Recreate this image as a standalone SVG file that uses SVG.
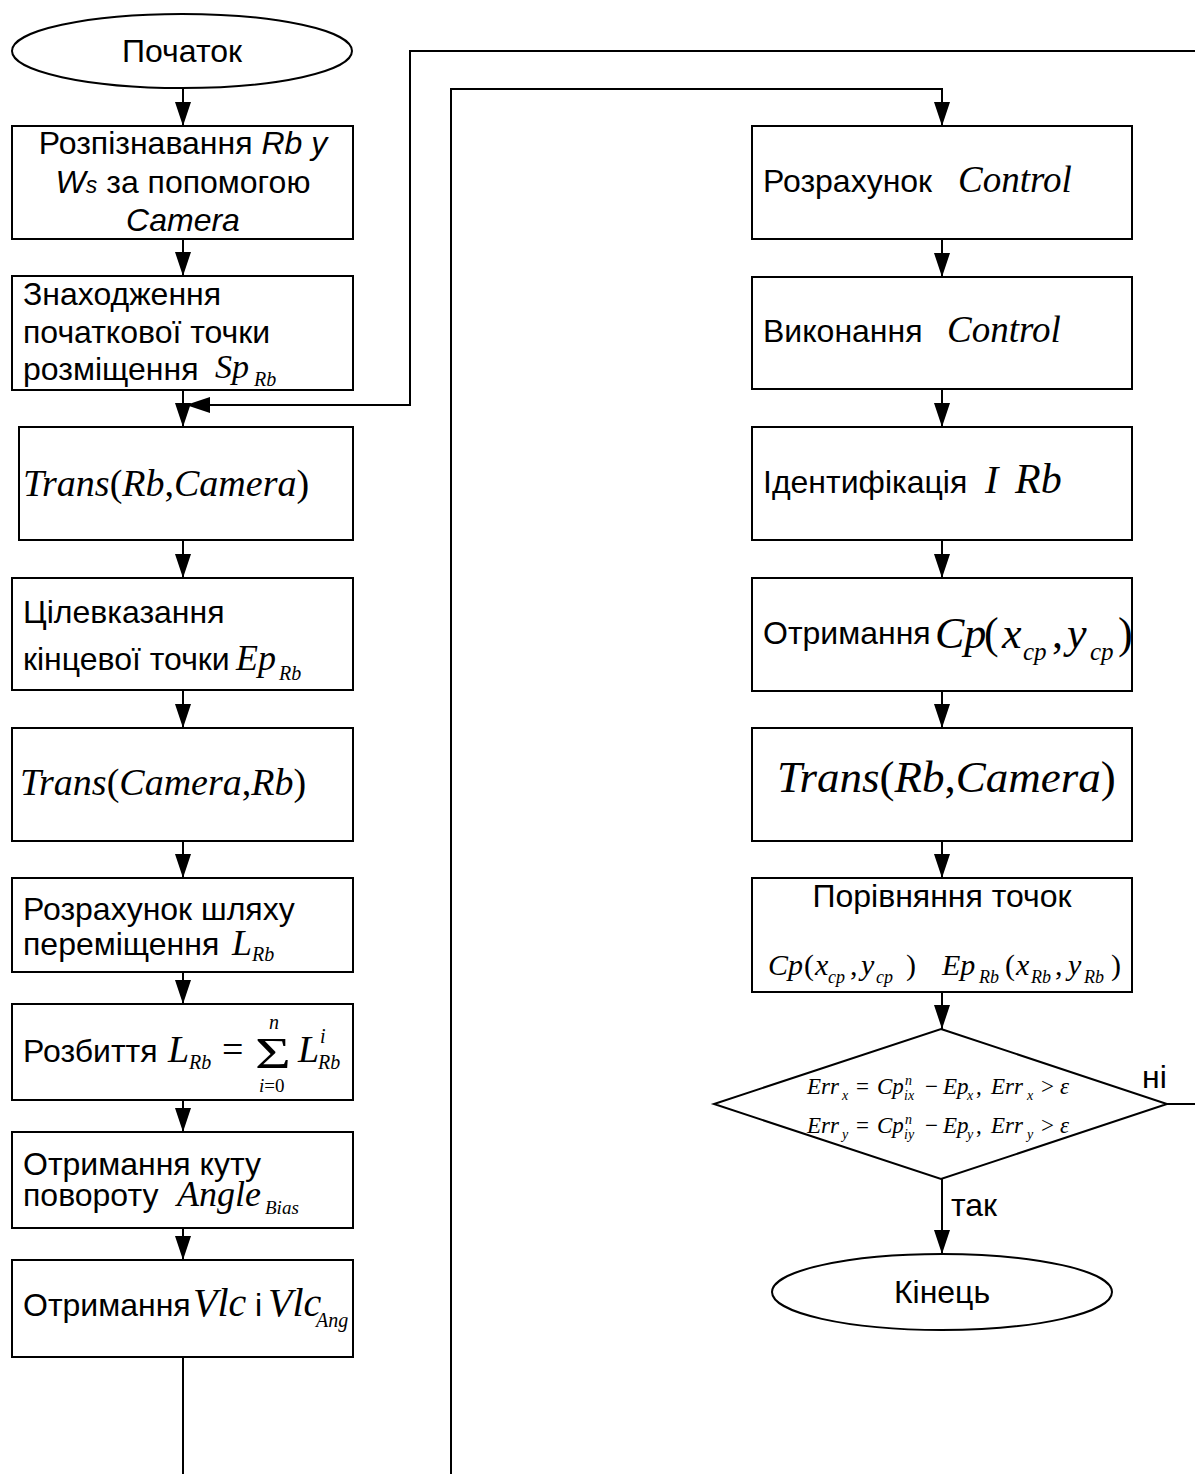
<svg xmlns="http://www.w3.org/2000/svg" width="1195" height="1474" viewBox="0 0 1195 1474">
  <style>
    .shape { fill: #fff; stroke: #000; stroke-width: 2; }
    .wire { fill: none; stroke: #000; stroke-width: 2; }
    .s { font-family: "Liberation Sans", Arial, sans-serif; font-size: 32px; fill: #000; }
    .si { font-family: "Liberation Sans", Arial, sans-serif; font-style: italic; fill: #000; }
    .m { font-family: "Liberation Serif", "Times New Roman", serif; font-style: italic; fill: #000; }
    .u { font-style: normal; }
    .d { font-size: 23px; }
    .ds { font-size: 14px; }
  </style>
  <defs>
    <marker id="arrow" markerUnits="userSpaceOnUse" markerWidth="24" markerHeight="16" refX="24" refY="8" orient="auto">
      <path d="M0,0 L24,8 L0,16 Z" fill="#000"/>
    </marker>
  </defs>

  <!-- connectors -->
  <g id="connectors">
    <line class="wire" x1="183" y1="88" x2="183" y2="126" marker-end="url(#arrow)"/>
    <line class="wire" x1="183" y1="239" x2="183" y2="276" marker-end="url(#arrow)"/>
    <line class="wire" x1="183" y1="390" x2="183" y2="427" marker-end="url(#arrow)"/>
    <path class="wire" d="M1195,51 H410 V405 H186" marker-end="url(#arrow)"/>
    <line class="wire" x1="183" y1="540" x2="183" y2="578" marker-end="url(#arrow)"/>
    <line class="wire" x1="183" y1="690" x2="183" y2="728" marker-end="url(#arrow)"/>
    <line class="wire" x1="183" y1="841" x2="183" y2="878" marker-end="url(#arrow)"/>
    <line class="wire" x1="183" y1="972" x2="183" y2="1004" marker-end="url(#arrow)"/>
    <line class="wire" x1="183" y1="1100" x2="183" y2="1132" marker-end="url(#arrow)"/>
    <line class="wire" x1="183" y1="1228" x2="183" y2="1260" marker-end="url(#arrow)"/>
    <line class="wire" x1="183" y1="1357" x2="183" y2="1474"/>
    <path class="wire" d="M451,1474 V89 H942 V126" marker-end="url(#arrow)"/>
    <line class="wire" x1="942" y1="239" x2="942" y2="277" marker-end="url(#arrow)"/>
    <line class="wire" x1="942" y1="389" x2="942" y2="427" marker-end="url(#arrow)"/>
    <line class="wire" x1="942" y1="540" x2="942" y2="578" marker-end="url(#arrow)"/>
    <line class="wire" x1="942" y1="691" x2="942" y2="728" marker-end="url(#arrow)"/>
    <line class="wire" x1="942" y1="841" x2="942" y2="878" marker-end="url(#arrow)"/>
    <line class="wire" x1="942" y1="992" x2="942" y2="1029" marker-end="url(#arrow)"/>
    <line class="wire" x1="942" y1="1179" x2="942" y2="1254" marker-end="url(#arrow)"/>
    <line class="wire" x1="1167" y1="1104" x2="1195" y2="1104"/>
    <text class="s" x="1142" y="1088">ні</text>
    <text class="s" x="951" y="1216">так</text>
  </g>

  <!-- left column -->
  <g id="start">
    <ellipse class="shape" cx="182" cy="51" rx="170" ry="37"/>
    <text class="s" x="182" y="62" text-anchor="middle">Початок</text>
  </g>

  <g id="recognize">
    <rect class="shape" x="12" y="126" width="341" height="113"/>
    <text class="s" x="183" y="154" text-anchor="middle">Розпізнавання <tspan class="si">Rb у</tspan></text>
    <text class="s" x="183" y="193" text-anchor="middle"><tspan class="si">W</tspan><tspan class="si" font-size="23">s</tspan> за попомогою</text>
    <text class="s" x="183" y="231" text-anchor="middle"><tspan class="si">Camera</tspan></text>
  </g>

  <g id="start-point">
    <rect class="shape" x="12" y="276" width="341" height="114"/>
    <text class="s" x="23" y="305">Знаходження</text>
    <text class="s" x="23" y="343">початкової точки</text>
    <text class="s" x="23" y="380">розміщення</text>
    <text class="m" x="215" y="378" font-size="34">Sp</text>
    <text class="m" x="254" y="386" font-size="20">Rb</text>
  </g>

  <g id="trans-rb-camera">
    <rect class="shape" x="19" y="427" width="334" height="113"/>
    <text class="m" x="23" y="496" font-size="38">Trans<tspan class="u">(</tspan>Rb<tspan class="u">,</tspan>Camera<tspan class="u">)</tspan></text>
  </g>

  <g id="target">
    <rect class="shape" x="12" y="578" width="341" height="112"/>
    <text class="s" x="23" y="623">Цілевказання</text>
    <text class="s" x="23" y="670">кінцевої точки</text>
    <text class="m" x="236" y="670" font-size="36">Ep</text>
    <text class="m" x="279" y="680" font-size="20">Rb</text>
  </g>

  <g id="trans-camera-rb">
    <rect class="shape" x="12" y="728" width="341" height="113"/>
    <text class="m" x="20" y="795" font-size="38">Trans<tspan class="u">(</tspan>Camera<tspan class="u">,</tspan>Rb<tspan class="u">)</tspan></text>
  </g>

  <g id="path-calc">
    <rect class="shape" x="12" y="878" width="341" height="94"/>
    <text class="s" x="23" y="920">Розрахунок шляху</text>
    <text class="s" x="23" y="955">переміщення</text>
    <text class="m" x="232" y="955" font-size="36">L</text>
    <text class="m" x="252" y="961" font-size="20">Rb</text>
  </g>

  <g id="split">
    <rect class="shape" x="12" y="1004" width="341" height="96"/>
    <text class="s" x="23" y="1062">Розбиття</text>
    <text class="m" x="168" y="1062" font-size="38">L</text>
    <text class="m" x="189" y="1069" font-size="20">Rb</text>
    <text class="m u" x="222" y="1062" font-size="38">=</text>
    <text class="m u" font-size="44" transform="translate(255,1068) scale(1.4,1)">Σ</text>
    <text class="m" x="269" y="1029" font-size="20">n</text>
    <text class="m" x="259" y="1092" font-size="19">i<tspan class="u">=0</tspan></text>
    <text class="m" x="298" y="1062" font-size="38">L</text>
    <text class="m" x="320" y="1043" font-size="20">i</text>
    <text class="m" x="318" y="1069" font-size="20">Rb</text>
  </g>

  <g id="angle">
    <rect class="shape" x="12" y="1132" width="341" height="96"/>
    <text class="s" x="23" y="1175">Отримання куту</text>
    <text class="s" x="23" y="1206">повороту</text>
    <text class="m" x="177" y="1206" font-size="36">Angle</text>
    <text class="m" x="265" y="1214" font-size="19">Bias</text>
  </g>

  <g id="velocity">
    <rect class="shape" x="12" y="1260" width="341" height="97"/>
    <text class="s" x="23" y="1316">Отримання</text>
    <text class="m" x="193" y="1316" font-size="40">Vlc</text>
    <text class="s" x="255" y="1316">і</text>
    <text class="m" x="268" y="1316" font-size="40">Vlc</text>
    <text class="m" x="316" y="1327" font-size="20">Ang</text>
  </g>

  <!-- right column -->
  <g id="control-calc">
    <rect class="shape" x="752" y="126" width="380" height="113"/>
    <text class="s" x="763" y="192">Розрахунок</text>
    <text class="m" x="958" y="192" font-size="37">Control</text>
  </g>

  <g id="control-run">
    <rect class="shape" x="752" y="277" width="380" height="112"/>
    <text class="s" x="763" y="342">Виконання</text>
    <text class="m" x="947" y="342" font-size="37">Control</text>
  </g>

  <g id="identify">
    <rect class="shape" x="752" y="427" width="380" height="113"/>
    <text class="s" x="763" y="493">Ідентифікація</text>
    <text class="m" x="985" y="493" font-size="40">I</text>
    <text class="m" x="1015" y="493" font-size="42">Rb</text>
  </g>

  <g id="current-point">
    <rect class="shape" x="752" y="578" width="380" height="113"/>
    <text class="s" x="763" y="644">Отримання</text>
    <text class="m" x="935" y="648" font-size="44">Cp</text>
    <text class="m u" x="984" y="648" font-size="44">(</text>
    <text class="m" x="1002" y="648" font-size="44">x</text>
    <text class="m" x="1023" y="660" font-size="25">cp</text>
    <text class="m u" x="1052" y="648" font-size="44">,</text>
    <text class="m" x="1067" y="648" font-size="44">y</text>
    <text class="m" x="1090" y="660" font-size="25">cp</text>
    <text class="m u" x="1118" y="648" font-size="44">)</text>
  </g>

  <g id="trans-rb-camera-2">
    <rect class="shape" x="752" y="728" width="380" height="113"/>
    <text class="m" x="777" y="792" font-size="45">Trans<tspan class="u">(</tspan>Rb<tspan class="u">,</tspan>Camera<tspan class="u">)</tspan></text>
  </g>

  <g id="compare">
    <rect class="shape" x="752" y="878" width="380" height="114"/>
    <text class="s" x="942" y="907" text-anchor="middle">Порівняння точок</text>
    <text class="m" x="768" y="975" font-size="30">Cp</text>
    <text class="m u" x="804" y="975" font-size="30">(</text>
    <text class="m" x="815" y="975" font-size="30">x</text>
    <text class="m" x="828" y="983" font-size="18">cp</text>
    <text class="m u" x="850" y="975" font-size="30">,</text>
    <text class="m" x="861" y="975" font-size="30">y</text>
    <text class="m" x="876" y="983" font-size="18">cp</text>
    <text class="m u" x="906" y="975" font-size="30">)</text>
    <text class="m" x="942" y="975" font-size="30">Ep</text>
    <text class="m" x="979" y="983" font-size="18">Rb</text>
    <text class="m u" x="1005" y="975" font-size="30">(</text>
    <text class="m" x="1016" y="975" font-size="30">x</text>
    <text class="m" x="1031" y="983" font-size="18">Rb</text>
    <text class="m u" x="1055" y="975" font-size="30">,</text>
    <text class="m" x="1068" y="975" font-size="30">y</text>
    <text class="m" x="1084" y="983" font-size="18">Rb</text>
    <text class="m u" x="1111" y="975" font-size="30">)</text>
  </g>

  <g id="check">
    <polygon class="shape" points="941,1029 1167,1104 941,1179 714,1104"/>
    <!-- first condition -->
    <text class="m d" x="807" y="1094">Err</text>
    <text class="m ds" x="842" y="1100">x</text>
    <text class="m d u" x="856" y="1094">=</text>
    <text class="m d" x="877" y="1094">Cp</text>
    <text class="m ds" x="905" y="1085">n</text>
    <text class="m ds" x="904" y="1100">ix</text>
    <text class="m d u" x="925" y="1094">−</text>
    <text class="m d" x="943" y="1094">Ep</text>
    <text class="m ds" x="967" y="1100">x</text>
    <text class="m d u" x="976" y="1094">,</text>
    <text class="m d" x="991" y="1094">Err</text>
    <text class="m ds" x="1027" y="1100">x</text>
    <text class="m d u" x="1041" y="1094">&gt;</text>
    <text class="m d" x="1060" y="1094">ε</text>
    <!-- second condition -->
    <text class="m d" x="807" y="1133">Err</text>
    <text class="m ds" x="842" y="1139">y</text>
    <text class="m d u" x="856" y="1133">=</text>
    <text class="m d" x="877" y="1133">Cp</text>
    <text class="m ds" x="905" y="1124">n</text>
    <text class="m ds" x="904" y="1139">iy</text>
    <text class="m d u" x="925" y="1133">−</text>
    <text class="m d" x="943" y="1133">Ep</text>
    <text class="m ds" x="967" y="1139">y</text>
    <text class="m d u" x="976" y="1133">,</text>
    <text class="m d" x="991" y="1133">Err</text>
    <text class="m ds" x="1027" y="1139">y</text>
    <text class="m d u" x="1041" y="1133">&gt;</text>
    <text class="m d" x="1060" y="1133">ε</text>
  </g>

  <g id="end">
    <ellipse class="shape" cx="942" cy="1292" rx="170" ry="38"/>
    <text class="s" x="942" y="1303" text-anchor="middle">Кінець</text>
  </g>
</svg>
